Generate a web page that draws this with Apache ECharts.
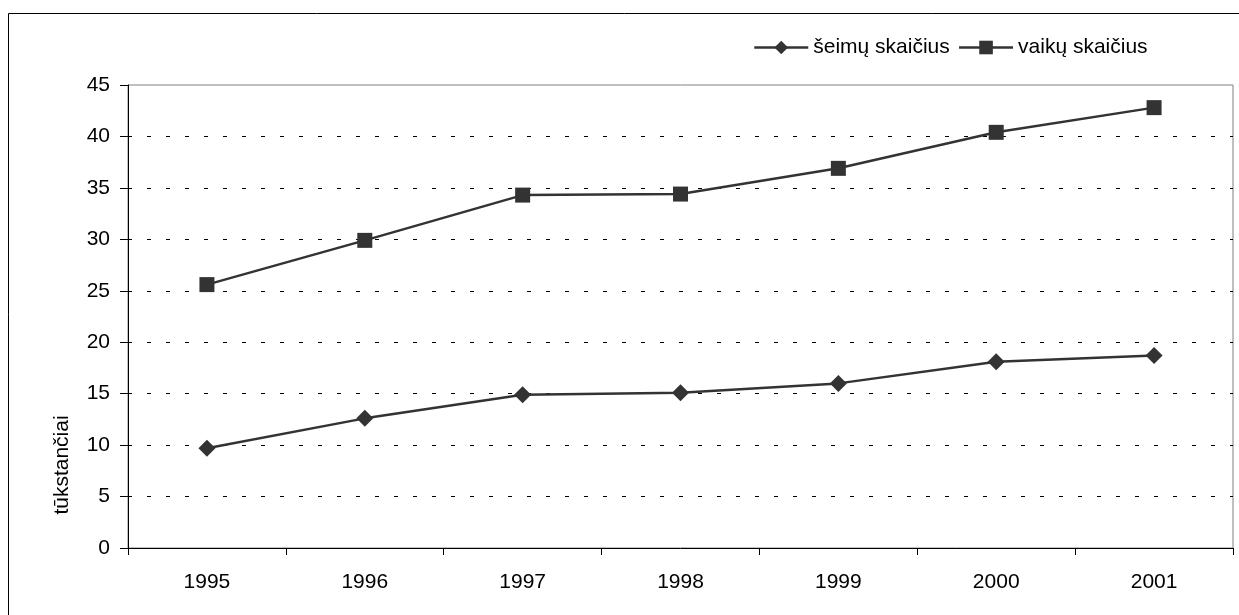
<!DOCTYPE html>
<html>
<head>
<meta charset="utf-8">
<script src="https://cdn.jsdelivr.net/npm/echarts@6/dist/echarts.min.js"></script>
<style>
html,body{margin:0;padding:0;background:#fff;}
#chart{width:1239px;height:615px;}
</style>
</head>
<body>
<div id="chart"></div>
<script>
var years = ['1995', '1996', '1997', '1998', '1999', '2000', '2001'];
var seimuSkaicius = [9.7, 12.6, 14.9, 15.1, 16.0, 18.1, 18.7];
var vaikuSkaicius = [25.6, 29.9, 34.3, 34.4, 36.9, 40.4, 42.8];
var yTicks = [0, 5, 10, 15, 20, 25, 30, 35, 40, 45];

var font = 'Liberation Sans, Arial, sans-serif';
var chart = echarts.init(document.getElementById('chart'));

var option = {
  animation: false,
  backgroundColor: '#fff',
  textStyle: {fontFamily: font},
  grid: {
    left: 128, right: 6, top: 85, bottom: 67,
    show: true, borderColor: '#808080', borderWidth: 1
  },
  legend: {
    left: 748, top: 32,
    itemWidth: 54, itemHeight: 17, itemGap: 8,
    textStyle: {fontSize: 21, color: '#000', fontFamily: font},
    lineStyle: {width: 2.5},
    data: ['šeimų skaičius', 'vaikų skaičius']
  },
  graphic: [
    {type: 'rect', shape: {x: 8.5, y: 13.5, width: 1400, height: 800},
     style: {fill: 'none', stroke: '#000', lineWidth: 1}, silent: true, z: -10},
    {type: 'text', x: 62, y: 465, rotation: Math.PI / 2,
     style: {text: 'tūkstančiai', font: '21px ' + font, fill: '#000',
             align: 'center', verticalAlign: 'middle'}}
  ],
  xAxis: {
    type: 'category',
    data: years,
    boundaryGap: true,
    axisLine: {lineStyle: {color: '#000', width: 1}},
    axisTick: {show: true, length: 7, lineStyle: {color: '#000'}},
    axisLabel: {fontSize: 21, color: '#000', margin: 24, fontFamily: font},
    splitLine: {show: false}
  },
  yAxis: {
    type: 'value',
    min: yTicks[0], max: yTicks[yTicks.length - 1], interval: 5,
    axisLine: {show: true, lineStyle: {color: '#000', width: 1}},
    axisTick: {show: true, length: 8, lineStyle: {color: '#000'}},
    axisLabel: {fontSize: 21, color: '#000', margin: 18, fontFamily: font},
    splitLine: {
      show: true, showMinLine: false, showMaxLine: false,
      lineStyle: {color: '#000', width: 1, type: [4, 15]}
    }
  },
  series: [
    {
      name: 'šeimų skaičius', type: 'line', data: seimuSkaicius,
      symbol: 'diamond', symbolSize: 17,
      color: '#333',
      lineStyle: {color: '#333', width: 2.5},
      itemStyle: {color: '#333'}
    },
    {
      name: 'vaikų skaičius', type: 'line', data: vaikuSkaicius,
      symbol: 'rect', symbolSize: 15,
      color: '#333',
      lineStyle: {color: '#333', width: 2.5},
      itemStyle: {color: '#333'}
    }
  ]
};
chart.setOption(option);
</script>
</body>
</html>
